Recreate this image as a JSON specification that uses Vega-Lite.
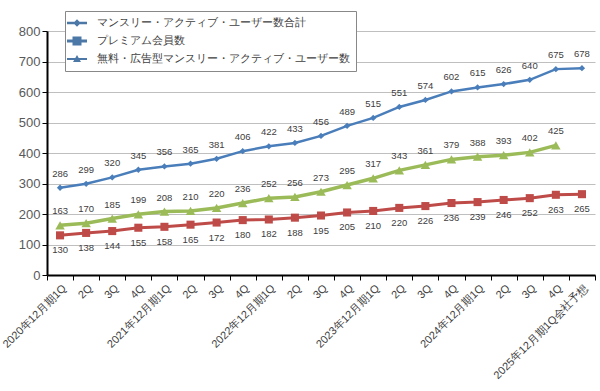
{
  "$schema": "https://vega.github.io/schema/vega-lite/v6.json",
  "width": 548,
  "height": 244,
  "padding": {"left": 0, "top": 10, "right": 10, "bottom": 5},
  "background": "white",
  "config": {"view": {"stroke": null}},
  "data": {"values": [
    {"q":"2020年12月期1Q","s":"マンスリー・アクティブ・ユーザー数合計","v":286},
    {"q":"2Q","s":"マンスリー・アクティブ・ユーザー数合計","v":299},
    {"q":"3Q","s":"マンスリー・アクティブ・ユーザー数合計","v":320},
    {"q":"4Q","s":"マンスリー・アクティブ・ユーザー数合計","v":345},
    {"q":"2021年12月期1Q","s":"マンスリー・アクティブ・ユーザー数合計","v":356},
    {"q":"2Q\u200b","s":"マンスリー・アクティブ・ユーザー数合計","v":365},
    {"q":"3Q\u200b","s":"マンスリー・アクティブ・ユーザー数合計","v":381},
    {"q":"4Q\u200b","s":"マンスリー・アクティブ・ユーザー数合計","v":406},
    {"q":"2022年12月期1Q","s":"マンスリー・アクティブ・ユーザー数合計","v":422},
    {"q":"2Q\u200b\u200b","s":"マンスリー・アクティブ・ユーザー数合計","v":433},
    {"q":"3Q\u200b\u200b","s":"マンスリー・アクティブ・ユーザー数合計","v":456},
    {"q":"4Q\u200b\u200b","s":"マンスリー・アクティブ・ユーザー数合計","v":489},
    {"q":"2023年12月期1Q","s":"マンスリー・アクティブ・ユーザー数合計","v":515},
    {"q":"2Q\u200b\u200b\u200b","s":"マンスリー・アクティブ・ユーザー数合計","v":551},
    {"q":"3Q\u200b\u200b\u200b","s":"マンスリー・アクティブ・ユーザー数合計","v":574},
    {"q":"4Q\u200b\u200b\u200b","s":"マンスリー・アクティブ・ユーザー数合計","v":602},
    {"q":"2024年12月期1Q","s":"マンスリー・アクティブ・ユーザー数合計","v":615},
    {"q":"2Q\u200b\u200b\u200b\u200b","s":"マンスリー・アクティブ・ユーザー数合計","v":626},
    {"q":"3Q\u200b\u200b\u200b\u200b","s":"マンスリー・アクティブ・ユーザー数合計","v":640},
    {"q":"4Q\u200b\u200b\u200b\u200b","s":"マンスリー・アクティブ・ユーザー数合計","v":675},
    {"q":"2025年12月期1Q会社予想","s":"マンスリー・アクティブ・ユーザー数合計","v":678},
    {"q":"2020年12月期1Q","s":"プレミアム会員数","v":130},
    {"q":"2Q","s":"プレミアム会員数","v":138},
    {"q":"3Q","s":"プレミアム会員数","v":144},
    {"q":"4Q","s":"プレミアム会員数","v":155},
    {"q":"2021年12月期1Q","s":"プレミアム会員数","v":158},
    {"q":"2Q\u200b","s":"プレミアム会員数","v":165},
    {"q":"3Q\u200b","s":"プレミアム会員数","v":172},
    {"q":"4Q\u200b","s":"プレミアム会員数","v":180},
    {"q":"2022年12月期1Q","s":"プレミアム会員数","v":182},
    {"q":"2Q\u200b\u200b","s":"プレミアム会員数","v":188},
    {"q":"3Q\u200b\u200b","s":"プレミアム会員数","v":195},
    {"q":"4Q\u200b\u200b","s":"プレミアム会員数","v":205},
    {"q":"2023年12月期1Q","s":"プレミアム会員数","v":210},
    {"q":"2Q\u200b\u200b\u200b","s":"プレミアム会員数","v":220},
    {"q":"3Q\u200b\u200b\u200b","s":"プレミアム会員数","v":226},
    {"q":"4Q\u200b\u200b\u200b","s":"プレミアム会員数","v":236},
    {"q":"2024年12月期1Q","s":"プレミアム会員数","v":239},
    {"q":"2Q\u200b\u200b\u200b\u200b","s":"プレミアム会員数","v":246},
    {"q":"3Q\u200b\u200b\u200b\u200b","s":"プレミアム会員数","v":252},
    {"q":"4Q\u200b\u200b\u200b\u200b","s":"プレミアム会員数","v":263},
    {"q":"2025年12月期1Q会社予想","s":"プレミアム会員数","v":265},
    {"q":"2020年12月期1Q","s":"無料・広告型マンスリー・アクティブ・ユーザー数","v":163},
    {"q":"2Q","s":"無料・広告型マンスリー・アクティブ・ユーザー数","v":170},
    {"q":"3Q","s":"無料・広告型マンスリー・アクティブ・ユーザー数","v":185},
    {"q":"4Q","s":"無料・広告型マンスリー・アクティブ・ユーザー数","v":199},
    {"q":"2021年12月期1Q","s":"無料・広告型マンスリー・アクティブ・ユーザー数","v":208},
    {"q":"2Q\u200b","s":"無料・広告型マンスリー・アクティブ・ユーザー数","v":210},
    {"q":"3Q\u200b","s":"無料・広告型マンスリー・アクティブ・ユーザー数","v":220},
    {"q":"4Q\u200b","s":"無料・広告型マンスリー・アクティブ・ユーザー数","v":236},
    {"q":"2022年12月期1Q","s":"無料・広告型マンスリー・アクティブ・ユーザー数","v":252},
    {"q":"2Q\u200b\u200b","s":"無料・広告型マンスリー・アクティブ・ユーザー数","v":256},
    {"q":"3Q\u200b\u200b","s":"無料・広告型マンスリー・アクティブ・ユーザー数","v":273},
    {"q":"4Q\u200b\u200b","s":"無料・広告型マンスリー・アクティブ・ユーザー数","v":295},
    {"q":"2023年12月期1Q","s":"無料・広告型マンスリー・アクティブ・ユーザー数","v":317},
    {"q":"2Q\u200b\u200b\u200b","s":"無料・広告型マンスリー・アクティブ・ユーザー数","v":343},
    {"q":"3Q\u200b\u200b\u200b","s":"無料・広告型マンスリー・アクティブ・ユーザー数","v":361},
    {"q":"4Q\u200b\u200b\u200b","s":"無料・広告型マンスリー・アクティブ・ユーザー数","v":379},
    {"q":"2024年12月期1Q","s":"無料・広告型マンスリー・アクティブ・ユーザー数","v":388},
    {"q":"2Q\u200b\u200b\u200b\u200b","s":"無料・広告型マンスリー・アクティブ・ユーザー数","v":393},
    {"q":"3Q\u200b\u200b\u200b\u200b","s":"無料・広告型マンスリー・アクティブ・ユーザー数","v":402},
    {"q":"4Q\u200b\u200b\u200b\u200b","s":"無料・広告型マンスリー・アクティブ・ユーザー数","v":425}
  ]},
  "encoding": {
    "x": {
      "field": "q", "type": "ordinal", "title": null,
      "scale": {"type": "band", "paddingInner": 0, "paddingOuter": 0,
        "domain": ["2020年12月期1Q","2Q","3Q","4Q","2021年12月期1Q","2Q\u200b","3Q\u200b","4Q\u200b","2022年12月期1Q","2Q\u200b\u200b","3Q\u200b\u200b","4Q\u200b\u200b","2023年12月期1Q","2Q\u200b\u200b\u200b","3Q\u200b\u200b\u200b","4Q\u200b\u200b\u200b","2024年12月期1Q","2Q\u200b\u200b\u200b\u200b","3Q\u200b\u200b\u200b\u200b","4Q\u200b\u200b\u200b\u200b","2025年12月期1Q会社予想"]},
      "axis": {
        "labelAngle": -45,
        "labelFontSize": 11, "labelColor": "#404040",
        "tickBand": "extent", "tickColor": "#000000",
        "domainColor": "#000000", "domainWidth": 2, "grid": false
      }
    },
    "y": {
      "field": "v", "type": "quantitative", "title": null,
      "scale": {"domain": [0, 800]},
      "axis": {
        "labelFontSize": 13, "labelColor": "#595959",
        "tickColor": "#000000",
        "domainColor": "#000000", "domainWidth": 2,
        "gridColor": "#bfbfbf"
      }
    }
  },
  "layer": [
    {
      "mark": {"type": "line"},
      "encoding": {
        "color": {"field": "s", "type": "nominal", "legend": null,
          "scale": {"domain": ["マンスリー・アクティブ・ユーザー数合計","プレミアム会員数","無料・広告型マンスリー・アクティブ・ユーザー数"],
                    "range": ["#4A7EBB","#BE4B48","#9BBB59"]}},
        "strokeWidth": {"field": "s", "type": "nominal", "legend": null,
          "scale": {"domain": ["マンスリー・アクティブ・ユーザー数合計","プレミアム会員数","無料・広告型マンスリー・アクティブ・ユーザー数"],
                    "range": [2.5, 3.5, 2]}}
      }
    },
    {
      "mark": {"type": "point", "filled": true, "opacity": 1},
      "encoding": {
        "color": {"field": "s", "type": "nominal", "legend": null},
        "shape": {"field": "s", "type": "nominal", "legend": null,
          "scale": {"domain": ["マンスリー・アクティブ・ユーザー数合計","プレミアム会員数","無料・広告型マンスリー・アクティブ・ユーザー数"],
                    "range": ["diamond","square","triangle-up"]}},
        "size": {"field": "s", "type": "nominal", "legend": null,
          "scale": {"domain": ["マンスリー・アクティブ・ユーザー数合計","プレミアム会員数","無料・広告型マンスリー・アクティブ・ユーザー数"],
                    "range": [40, 90, 35]}}
      }
    },
    {
      "mark": {"type": "point", "filled": true, "opacity": 0},
      "encoding": {
        "shape": {"field": "s", "type": "nominal",
          "scale": {"domain": ["マンスリー・アクティブ・ユーザー数合計","プレミアム会員数","無料・広告型マンスリー・アクティブ・ユーザー数"],
                    "range": [
                      "M-2,-0.25L2,-0.25L2,0.25L-2,0.25Z M0,-0.75L0.75,0L0,0.75L-0.75,0Z",
                      "M-2,-0.3L2,-0.3L2,0.3L-2,0.3Z M-0.9,-0.9L0.9,-0.9L0.9,0.9L-0.9,0.9Z",
                      "M-2,-0.2L2,-0.2L2,0.2L-2,0.2Z M0,-0.8L0.8,0.6L-0.8,0.6Z"
                    ]},
          "legend": {
            "title": null, "orient": "none", "legendX": 18, "legendY": -20,
            "direction": "vertical",
            "strokeColor": "#888888", "fillColor": "white", "padding": 6,
            "labelFontSize": 11, "labelColor": "#404040",
            "labelOffset": 14, "symbolSize": 100, "symbolOpacity": 1,
            "rowPadding": 3, "labelLimit": 400,
            "encode": {
              "symbols": {
                "update": {
                  "fill": {"signal": "datum.value === 'プレミアム会員数' ? '#BE4B48' : (datum.value === 'マンスリー・アクティブ・ユーザー数合計' ? '#4A7EBB' : '#9BBB59')"},
                  "opacity": {"value": 1}
                }
              }
            }
          }}
      }
    },
    {
      "transform": [{"filter": "datum.s !== 'プレミアム会員数'"}],
      "mark": {"type": "text", "dy": -14, "fontSize": 9.5, "color": "#404040"},
      "encoding": {"text": {"field": "v", "type": "quantitative"}}
    },
    {
      "transform": [{"filter": "datum.s === 'プレミアム会員数'"}],
      "mark": {"type": "text", "dy": 15, "fontSize": 9.5, "color": "#404040"},
      "encoding": {"text": {"field": "v", "type": "quantitative"}}
    }
  ],
  "resolve": {"scale": {"shape": "independent"}, "legend": {"shape": "independent"}}
}
